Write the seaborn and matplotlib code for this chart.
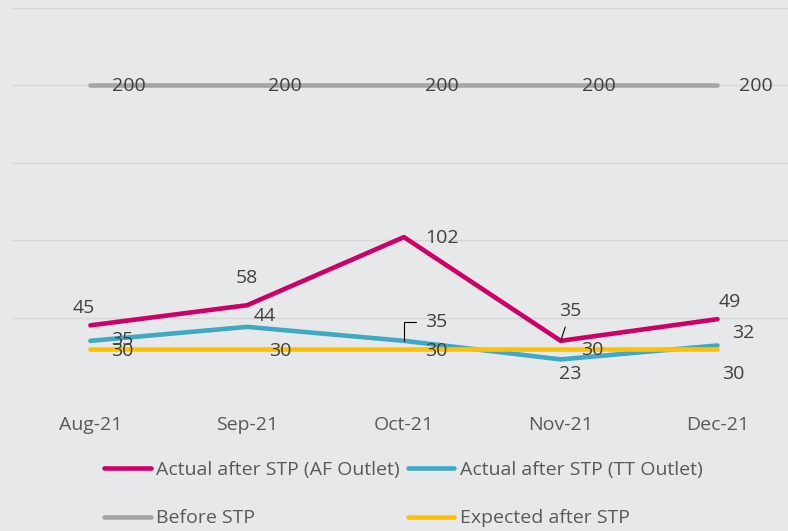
import pandas as pd
import matplotlib.pyplot as plt
import seaborn as sns

# Chart data
months = ['Aug-21', 'Sep-21', 'Oct-21', 'Nov-21', 'Dec-21']
af_outlet = [45, 58, 102, 35, 49]
tt_outlet = [35, 44, 35, 23, 32]
before_stp = [200, 200, 200, 200, 200]
expected_stp = [30, 30, 30, 30, 30]

series = ['Actual after STP (AF Outlet)', 'Actual after STP (TT Outlet)',
          'Before STP', 'Expected after STP']
colors = ['#CC0066', '#3FA9C5', '#A5A5A5', '#FFC000']

rows = []
for name, vals in zip(series, [af_outlet, tt_outlet, before_stp, expected_stp]):
    for i, v in enumerate(vals):
        rows.append({'idx': i, 'value': v, 'series': name})
data = pd.DataFrame(rows)

bg = '#E7E8EA'
sns.set_style('white')
plt.rcParams['font.family'] = ['Open Sans', 'DejaVu Sans']

fig = plt.figure(figsize=(7.88, 5.31), dpi=100, facecolor=bg)
ax = fig.add_axes([12 / 788, 136 / 531, 1 - 12 / 788, 387 / 531])
ax.set_facecolor(bg)

sns.lineplot(data=data, x='idx', y='value', hue='series', hue_order=series,
             palette=colors, linewidth=3.3, sort=False, ax=ax, legend=False)

ax.set_xlim(-0.5, 4.45)
ax.set_ylim(0, 250)
ax.set_yticks(range(0, 251, 50))
ax.set_yticklabels([])
ax.set_xticks(range(len(months)))
ax.set_xticklabels(months, fontsize=14, color='#595959')
ax.tick_params(axis='both', length=0)
ax.tick_params(axis='x', pad=15)
ax.grid(axis='y', color='#D6D7D9', linewidth=1)
ax.set_xlabel('')
ax.set_ylabel('')
for s in ax.spines.values():
    s.set_visible(False)

lab = dict(fontsize=14, color='#404040', ha='center', va='center',
           textcoords='offset pixels')

# AF outlet labels
af_off = [(-7, 17), (0, 27), (38, -1), (10, 30), (12, 17)]
for i, v in enumerate(af_outlet):
    if i == 3:
        ax.annotate(str(v), (i, v), xytext=af_off[i], **lab,
                    arrowprops=dict(arrowstyle='-', color='black', lw=0.8,
                                    shrinkA=3, shrinkB=0))
    else:
        ax.annotate(str(v), (i, v), xytext=af_off[i], **lab)

# TT outlet labels
tt_off = [(32, 1), (18, 11), (32, 19), (10, -15), (26, 12)]
for i, v in enumerate(tt_outlet):
    if i == 2:
        ax.annotate(str(v), (i, v), xytext=tt_off[i], **lab,
                    arrowprops=dict(arrowstyle='-', color='black', lw=0.8,
                                    connectionstyle='angle,angleA=0,angleB=90,rad=0',
                                    shrinkA=4, shrinkB=0))
    else:
        ax.annotate(str(v), (i, v), xytext=tt_off[i], **lab)

# Before STP labels
for i, v in enumerate(before_stp):
    ax.annotate(str(v), (i, v), xytext=(38, -1), **lab)

# Expected labels
ex_off = [(32, -2), (33, -2), (32, -2), (32, -1), (16, -25)]
for i, v in enumerate(expected_stp):
    ax.annotate(str(v), (i, v), xytext=ex_off[i], **lab)

# Legend in row order
handles = [plt.Line2D([], [], color=c, linewidth=3.3) for c in colors]
order = [0, 2, 1, 3]
leg = fig.legend([handles[k] for k in order], [series[k] for k in order],
                 ncol=2, loc='center', bbox_to_anchor=(0.512, 0.069),
                 frameon=False, fontsize=14, handlelength=2.4,
                 handletextpad=0.3, columnspacing=0.4, labelspacing=1.55)
for t in leg.get_texts():
    t.set_color('#595959')

fig.savefig('out.png', dpi=100, facecolor=bg)
